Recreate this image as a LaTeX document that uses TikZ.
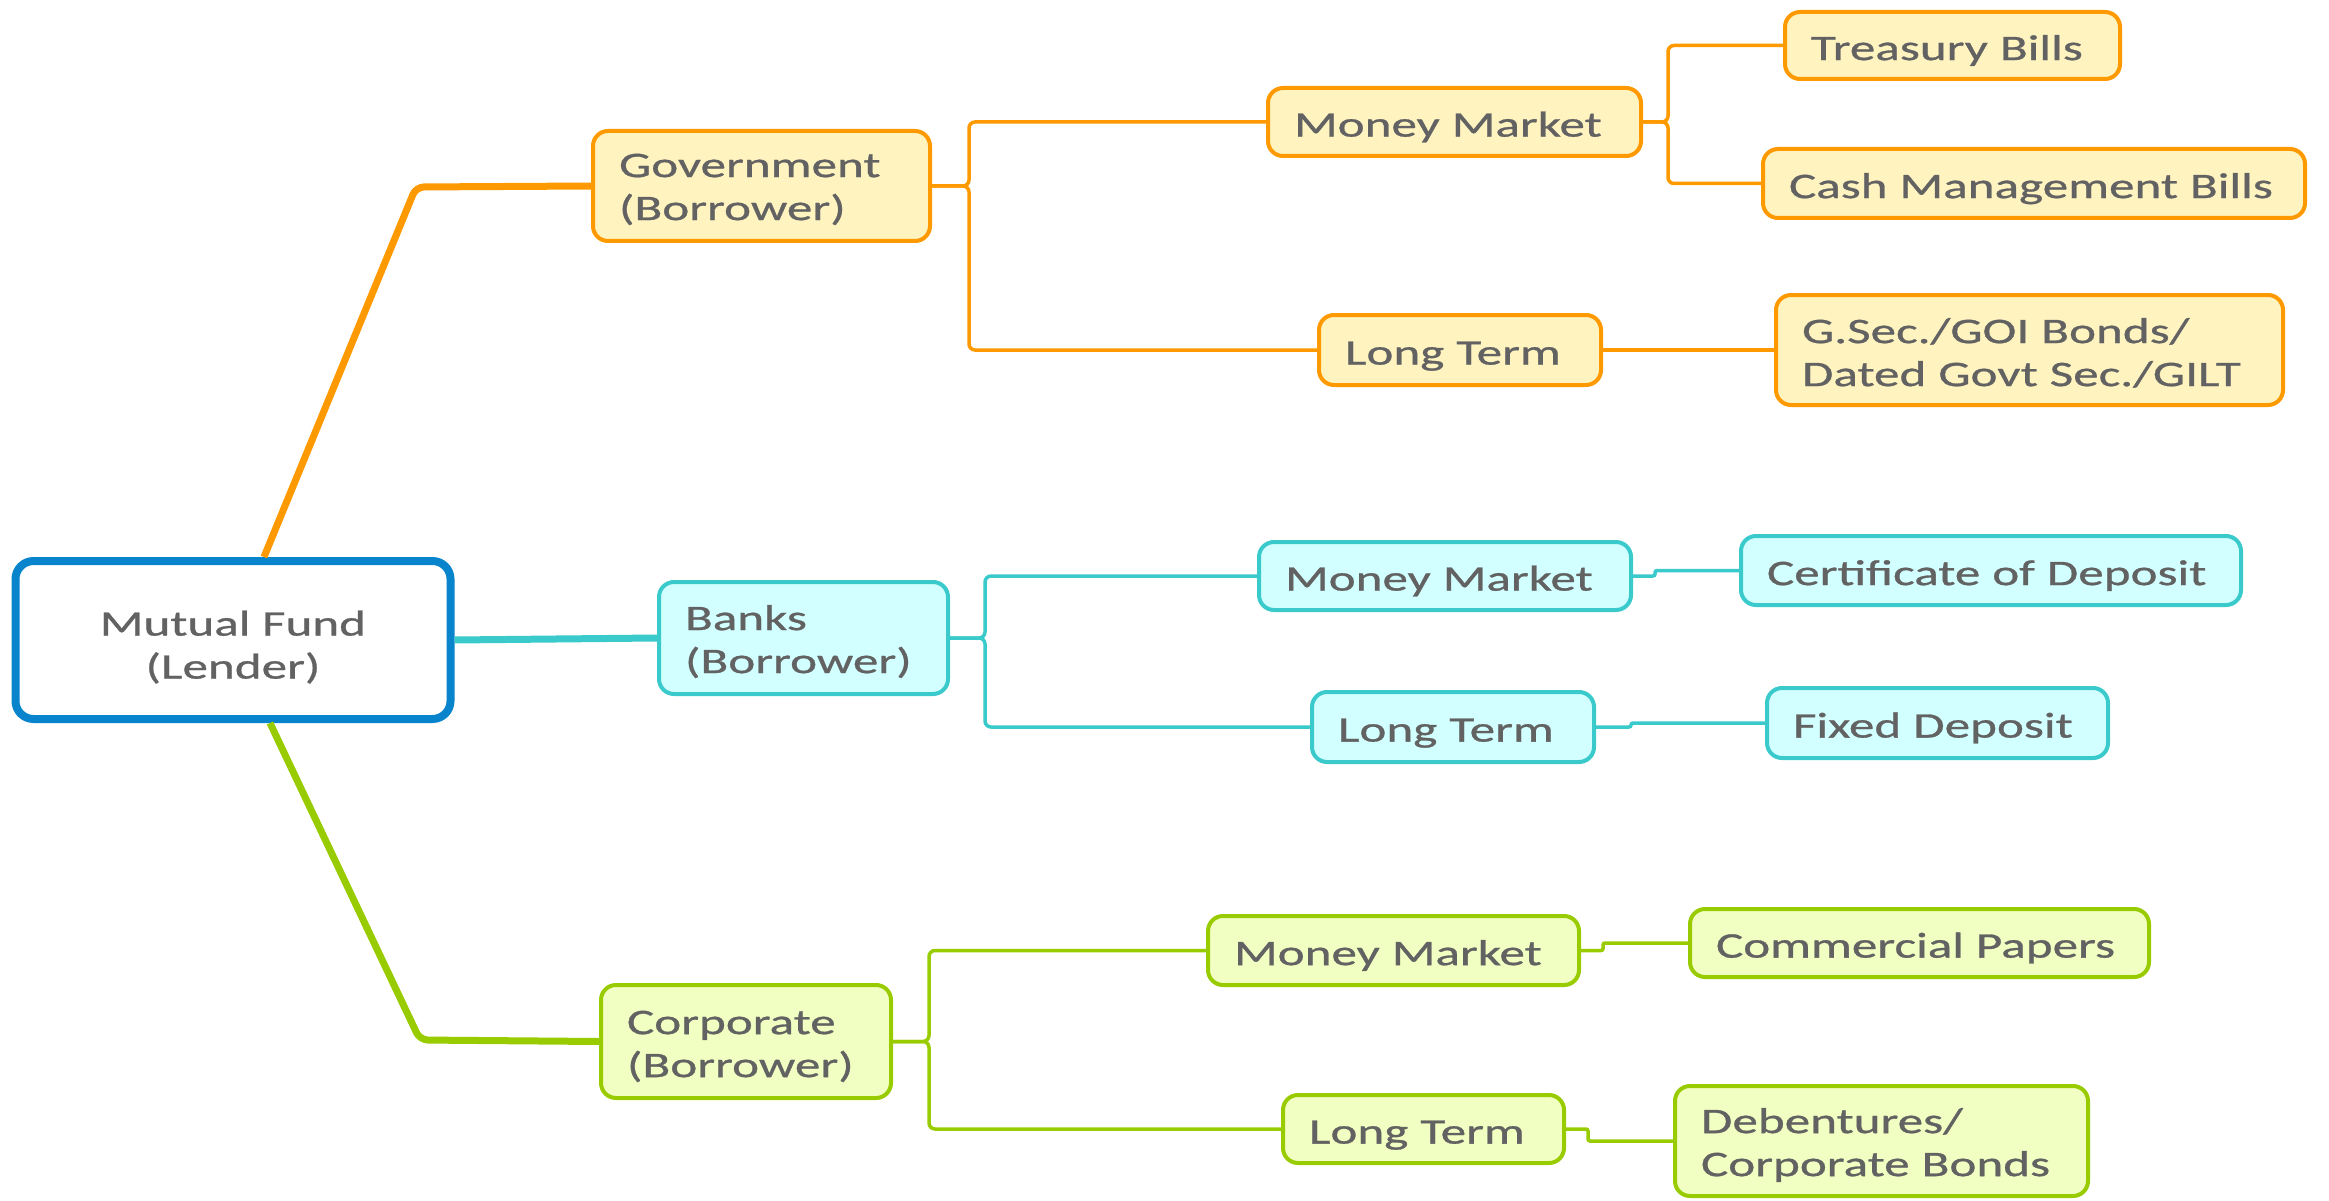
\documentclass[tikz,border=0pt]{standalone}
\usepackage{fontspec}
\setmainfont{Carlito}[FakeStretch=1.42,FakeBold=0.8]
\definecolor{orB}{RGB}{255,153,0}
\definecolor{orF}{RGB}{255,243,192}
\definecolor{teB}{RGB}{58,202,204}
\definecolor{teF}{RGB}{210,255,255}
\definecolor{grB}{RGB}{153,204,0}
\definecolor{grF}{RGB}{242,255,194}
\definecolor{blB}{RGB}{8,132,204}
\definecolor{txt}{RGB}{98,98,98}
\newcommand\tl[2]{\raisebox{-#1pt}[\height][\depth]{\begin{tabular}{@{}l@{}}#2\end{tabular}}}
\newcommand\tc[2]{\raisebox{-#1pt}[\height][\depth]{\begin{tabular}{@{}c@{}}#2\end{tabular}}}
\begin{document}
\begin{tikzpicture}[x=1pt,y=-1pt,
  every node/.style={font=\fontsize{36}{43}\selectfont, text=txt},
  bx/.style={draw, rounded corners=15pt, line width=4pt, inner xsep=26pt, inner ysep=0pt, align=left},
  gov/.style={bx, draw=orB, fill=orF},
  ban/.style={bx, draw=teB, fill=teF},
  cor/.style={bx, draw=grB, fill=grF},
  oc/.style={draw=orB, line width=3.5pt, rounded corners=6pt},
  tcn/.style={draw=teB, line width=3.5pt, rounded corners=6pt},
  gc/.style={draw=grB, line width=3.5pt, rounded corners=6pt},
  jog/.style={rounded corners=2pt},
  mainline/.style={line width=7pt, rounded corners=8pt, line cap=butt}]
\useasboundingbox (0,0) rectangle (2329,1201);
% root
\node[draw=blB, fill=white, line width=8pt, rounded corners=18pt, minimum width=435pt, minimum height=158pt, align=center] (mf) at (233,640) {\tc{8.5}{Mutual Fund\\(Lender)}};
% level 1
\node[gov, minimum width=337pt, minimum height=110pt, text width=285pt] (gv) at (761.5,186) {\tl{4}{Government\\(Borrower)}};
\node[ban, minimum width=289pt, minimum height=112pt, text width=237pt] (bk) at (803.5,638) {\tl{5}{Banks\\(Borrower)}};
\node[cor, minimum width=290pt, minimum height=113pt, text width=238pt] (cp) at (746,1041.5) {\tl{5.5}{Corporate\\(Borrower)}};
% government branch
\node[gov, minimum width=373pt, minimum height=68pt, text width=321pt] (gmm) at (1454.5,122) {\tl{6}{Money Market}};
\node[gov, minimum width=335pt, minimum height=67pt, text width=283pt] (tb) at (1952.5,45.5) {\tl{6}{Treasury Bills}};
\node[gov, minimum width=542pt, minimum height=69pt, text width=490pt] (cmb) at (2034,183.5) {\tl{6}{Cash Management Bills}};
\node[gov, minimum width=282pt, minimum height=70pt, text width=230pt] (glt) at (1460,350) {\tl{6}{Long Term}};
\node[gov, minimum width=507pt, minimum height=110pt, text width=455pt] (gs) at (2029.5,350) {\tl{6}{G.Sec./GOI Bonds/\\Dated Govt Sec./GILT}};
% banks branch
\node[ban, minimum width=372pt, minimum height=68pt, text width=320pt] (bmm) at (1445,576) {\tl{6}{Money Market}};
\node[ban, minimum width=500pt, minimum height=69pt, text width=448pt] (cd) at (1991,570.5) {\tl{6}{Certificate of Deposit}};
\node[ban, minimum width=282pt, minimum height=70pt, text width=230pt] (blt) at (1453,727) {\tl{6}{Long Term}};
\node[ban, minimum width=341pt, minimum height=70pt, text width=289pt] (fd) at (1937.5,723) {\tl{6}{Fixed Deposit}};
% corporate branch
\node[cor, minimum width=371pt, minimum height=69pt, text width=319pt] (cmm) at (1393.5,950.5) {\tl{6}{Money Market}};
\node[cor, minimum width=459pt, minimum height=68pt, text width=407pt] (cpp) at (1919.5,943) {\tl{6}{Commercial Papers}};
\node[cor, minimum width=281pt, minimum height=68pt, text width=229pt] (clt) at (1423.5,1129) {\tl{6}{Long Term}};
\node[cor, minimum width=413pt, minimum height=110pt, text width=361pt] (db) at (1881.5,1141) {\tl{5}{Debentures/\\Corporate Bonds}};
% main lines
\draw[mainline, draw=orB] ([xshift=31pt]mf.north) -- (416,187) -- (gv.west);
\draw[mainline, draw=teB] (mf.east) -- (bk.west);
\draw[mainline, draw=grB] ([xshift=37pt]mf.south) -- (420,1040) -- (cp.west);
% government connectors
\draw[oc] (gv.east) -- ++(37,0) |- (gmm.west);
\draw[oc] (gv.east) -- ++(37,0) |- (glt.west);
\draw[oc] (gmm.east) -- ++(25,0) |- (tb.west);
\draw[oc] (gmm.east) -- ++(25,0) |- (cmb.west);
\draw[oc] (glt.east) -- (gs.west);
% banks connectors
\draw[tcn] (bk.east) -- ++(35,0) |- (bmm.west);
\draw[tcn] (bk.east) -- ++(35,0) |- (blt.west);
\draw[tcn, jog] (bmm.east) -- ++(22,0) |- (cd.west);
\draw[tcn, jog] (blt.east) -- ++(35,0) |- (fd.west);
% corporate connectors
\draw[gc] (cp.east) -- ++(36,0) |- (cmm.west);
\draw[gc] (cp.east) -- ++(36,0) |- (clt.west);
\draw[gc, jog] (cmm.east) -- ++(22,0) |- (cpp.west);
\draw[gc, jog] (clt.east) -- ++(22,0) |- (db.west);
\end{tikzpicture}
\end{document}
